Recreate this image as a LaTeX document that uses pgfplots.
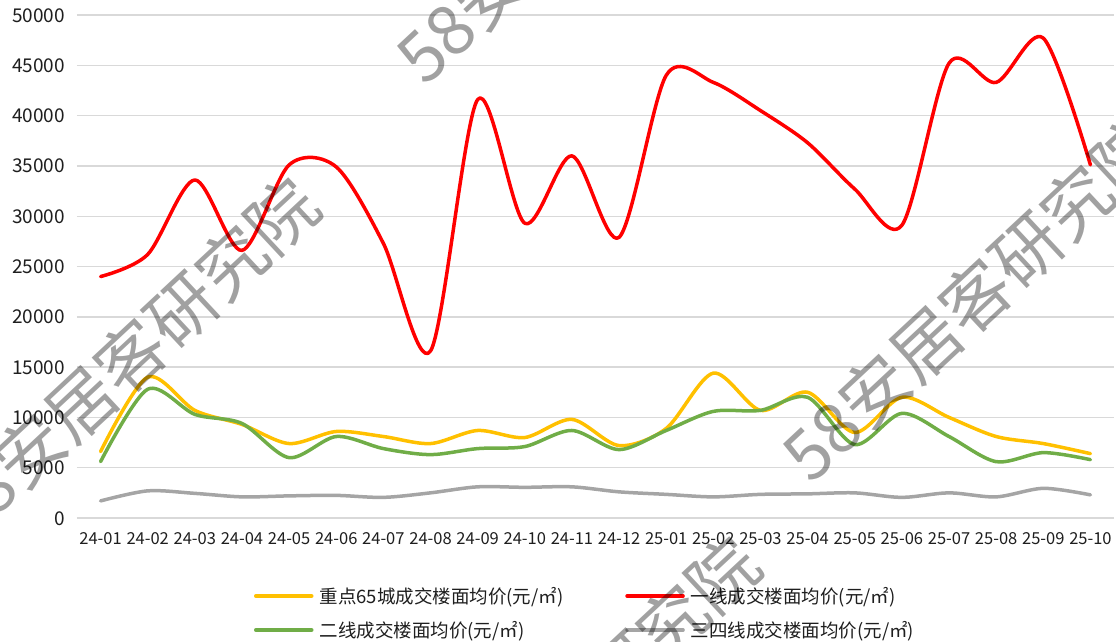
\documentclass[border=0pt]{standalone}
\usepackage{pgfplots}
\pgfplotsset{compat=1.18}
\usepackage{fontspec}
\setmainfont{Noto Sans CJK SC}
\definecolor{cYellow}{RGB}{255,192,0}
\definecolor{cRed}{RGB}{255,0,0}
\definecolor{cGreen}{RGB}{112,173,71}
\definecolor{cGray}{RGB}{165,165,165}
\definecolor{cGrid}{RGB}{217,217,217}
\definecolor{cText}{RGB}{30,30,30}
\begin{document}
\begin{tikzpicture}
\useasboundingbox (0,0) rectangle (1116pt,641pt);
\begin{axis}[
  at={(77pt,123pt)}, anchor=south west,
  scale only axis, width=1037pt, height=503pt,
  xmin=-0.5, xmax=21.5, ymin=0, ymax=50000,
  xtick={0,...,21},
  xticklabels={24-01,24-02,24-03,24-04,24-05,24-06,24-07,24-08,24-09,24-10,24-11,24-12,25-01,25-02,25-03,25-04,25-05,25-06,25-07,25-08,25-09,25-10},
  ytick={0,5000,...,50000},
  scaled y ticks=false,
  /pgf/number format/assume math mode=true,
  /pgf/number format/set thousands separator={},
  axis line style={draw=none},
  major tick length=0pt,
  ymajorgrids,
  major grid style={draw=cGrid, line width=1.4pt},
  xticklabel style={font=\fontsize{16.5}{18}\selectfont, text=cText, anchor=base, inner sep=0pt, yshift=-26pt},
  yticklabel style={font=\fontsize{19}{21}\selectfont, text=cText, anchor=base east, inner sep=0pt, xshift=-12pt, yshift=-7pt},
  legend cell align=left,
  legend image code/.code={\draw[#1, line width=3.5pt] (0pt,0pt) -- (56pt,0pt);},
  legend columns=2,
  legend style={at={(0.1707,-0.1213)}, anchor=north west, draw=none, fill=none,
    inner sep=0pt, outer sep=0pt, row sep=0pt,
    font=\fontsize{18.5}{20}\selectfont, text=cText,
    nodes={inner sep=0pt, minimum height=34pt},
    /tikz/every odd column/.append style={column sep=6pt},
    /tikz/every even column/.append style={column sep=62pt}},
  every axis plot/.append style={line width=3.5pt, smooth, tension=0.5, line join=round, line cap=round},
]
\addplot[cYellow] coordinates {(0,6600)(1,14000)(2,10700)(3,9300)(4,7400)(5,8600)(6,8100)(7,7400)(8,8700)(9,8000)(10,9800)(11,7200)(12,8900)(13,14400)(14,10700)(15,12500)(16,8500)(17,12000)(18,10000)(19,8100)(20,7400)(21,6400)};
\addlegendentry{重点65城成交楼面均价(元/㎡)}
\addplot[cRed] coordinates {(0,24000)(1,26200)(2,33600)(3,26600)(4,35100)(5,34900)(6,27300)(7,16600)(8,41600)(9,29300)(10,36000)(11,27900)(12,44000)(13,43300)(14,40500)(15,37300)(16,32700)(17,29100)(18,45200)(19,43300)(20,47700)(21,35100)};
\addlegendentry{一线成交楼面均价(元/㎡)}
\addplot[cGreen] coordinates {(0,5600)(1,12800)(2,10300)(3,9400)(4,6000)(5,8100)(6,6900)(7,6300)(8,6900)(9,7100)(10,8700)(11,6800)(12,8700)(13,10600)(14,10700)(15,12000)(16,7300)(17,10400)(18,8100)(19,5600)(20,6500)(21,5800)};
\addlegendentry{二线成交楼面均价(元/㎡)}
\addplot[cGray] coordinates {(0,1700)(1,2700)(2,2450)(3,2100)(4,2200)(5,2250)(6,2050)(7,2500)(8,3100)(9,3050)(10,3100)(11,2600)(12,2350)(13,2100)(14,2350)(15,2400)(16,2500)(17,2050)(18,2500)(19,2100)(20,2950)(21,2300)};
\addlegendentry{三四线成交楼面均价(元/㎡)}
\end{axis}
\begin{scope}[every node/.style={rotate=43, text=black, text opacity=0.37, inner sep=0pt, font=\fontsize{69}{69}\selectfont}]
\node at (128pt,282pt) {58安居客研究院};
\node at (973pt,342pt) {58安居客研究院};
\node at (587pt,740pt) {58安居客研究院};
\node at (569pt,-77pt) {58安居客研究院};
\end{scope}
\end{tikzpicture}
\end{document}
